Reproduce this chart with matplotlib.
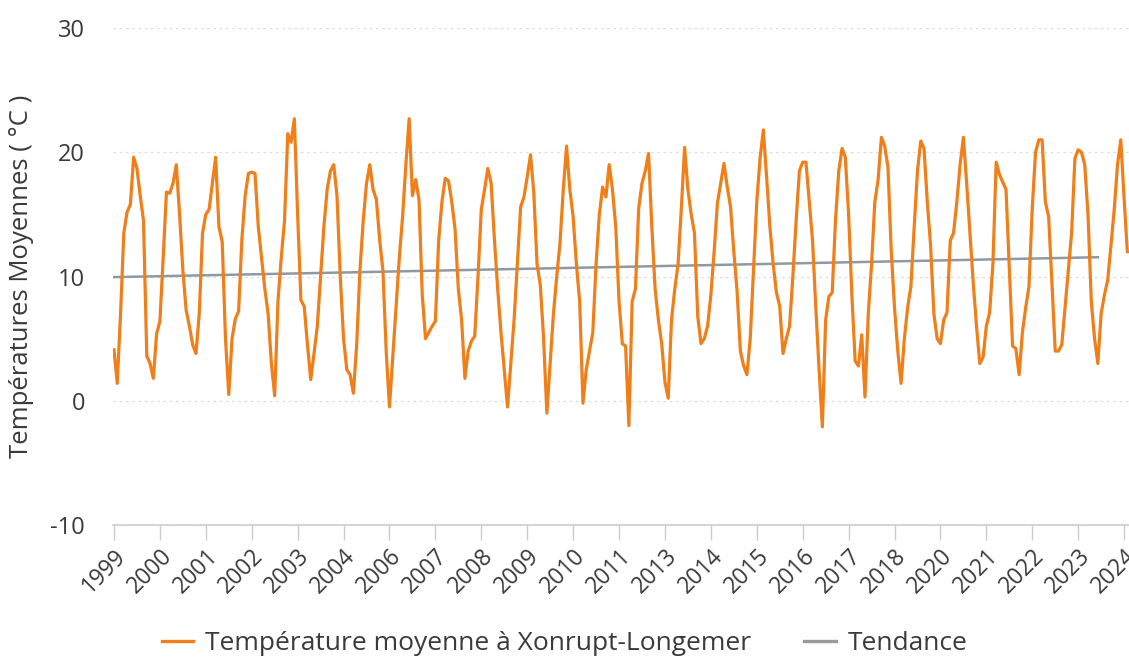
import numpy as np
import matplotlib
matplotlib.use("Agg")
import matplotlib.pyplot as plt
from matplotlib.lines import Line2D

# Monthly mean temperatures (°C), January 1999 onward
t1999 = [4.1, 1.4, 7.0, 13.5, 15.2, 15.8, 19.6, 18.7, 16.5, 14.5, 3.6, 3.0]
t2000 = [1.8, 5.4, 6.4, 11.5, 16.8, 16.7, 17.5, 19.0, 15.0, 10.5, 7.3, 6.0]
t2001 = [4.5, 3.8, 7.0, 13.5, 15.0, 15.4, 17.5, 19.6, 14.0, 12.8, 5.0, 0.5]
t2002 = [5.0, 6.6, 7.2, 13.0, 16.5, 18.3, 18.4, 18.3, 14.0, 11.5, 9.0, 7.0]
t2003 = [3.0, 0.4, 8.0, 11.5, 14.5, 21.5, 20.8, 22.7, 15.0, 8.1, 7.6, 4.5]
t2004 = [1.7, 3.8, 6.0, 10.0, 14.0, 17.0, 18.5, 19.0, 16.5, 10.0, 5.0, 2.5]
t2005 = [2.1, 0.6, 4.5, 10.5, 14.5, 17.5, 19.0, 17.0, 16.2, 13.0, 10.5, 4.0]
t2006 = [-0.5, 3.5, 7.6, 11.5, 14.8, 19.0, 22.7, 16.5, 17.8, 16.2, 8.5, 5.0]
t2007 = [5.5, 6.0, 6.4, 12.9, 16.0, 17.9, 17.7, 16.0, 13.8, 9.0, 6.5, 1.8]
t2008 = [4.0, 4.8, 5.2, 10.0, 15.4, 17.0, 18.7, 17.5, 13.0, 9.0, 5.5, 2.5]
t2009 = [-0.5, 3.0, 6.5, 11.0, 15.6, 16.4, 18.0, 19.8, 16.8, 11.0, 9.3, 5.0]
t2010 = [-1.0, 3.0, 7.0, 10.0, 12.7, 17.0, 20.5, 17.0, 14.8, 11.0, 8.0, -0.2]
t2011 = [2.5, 4.0, 5.5, 11.0, 15.0, 17.2, 16.4, 19.0, 17.0, 14.0, 8.0, 4.6]
t2012 = [4.4, -2.0, 8.0, 9.0, 15.5, 17.5, 18.5, 19.9, 14.0, 9.0, 6.5, 4.6]
t2013 = [1.5, 0.2, 6.5, 9.0, 11.0, 15.5, 20.4, 17.0, 15.0, 13.5, 6.8, 4.6]
t2014 = [5.0, 6.0, 8.5, 12.0, 15.9, 17.5, 19.1, 17.2, 15.6, 12.0, 8.8, 4.0]
t2015 = [2.8, 2.1, 5.0, 10.5, 16.0, 19.5, 21.8, 18.0, 14.0, 11.0, 8.7, 7.6]
t2016 = [3.8, 5.0, 6.0, 10.0, 14.5, 18.5, 19.2, 19.2, 16.0, 12.9, 7.5, 2.5]
t2017 = [-2.1, 6.5, 8.4, 8.7, 14.5, 18.5, 20.3, 19.6, 15.0, 8.5, 3.2, 2.8]
t2018 = [5.3, 0.3, 7.0, 11.0, 16.0, 17.8, 21.2, 20.5, 18.8, 12.1, 7.5, 4.0]
t2019 = [1.4, 5.0, 7.5, 9.2, 14.0, 18.5, 20.9, 20.3, 16.0, 12.5, 7.0, 5.0]
t2020 = [4.6, 6.5, 7.1, 12.9, 13.5, 16.0, 19.0, 21.2, 17.5, 13.5, 9.5, 6.0]
t2021 = [3.0, 3.5, 6.0, 7.1, 11.0, 19.2, 18.2, 17.6, 17.0, 10.8, 4.4, 4.2]
t2022 = [2.1, 5.5, 7.5, 9.2, 15.5, 20.0, 21.0, 21.0, 16.0, 14.8, 9.5, 4.0]
t2023 = [4.0, 4.5, 7.5, 10.5, 13.5, 19.5, 20.2, 20.0, 19.0, 15.0, 8.0, 5.0]
t2024 = [3.0, 7.0, 8.5, 9.7, 12.5, 15.4, 19.0, 21.0, 16.3, 12.0]

temps = (t1999 + t2000 + t2001 + t2002 + t2003 + t2004 + t2005 + t2006 + t2007
         + t2008 + t2009 + t2010 + t2011 + t2012 + t2013 + t2014 + t2015 + t2016
         + t2017 + t2018 + t2019 + t2020 + t2021 + t2022 + t2023 + t2024)

# Linear trend (start / end month index and value)
trend_x = [0, 300]
trend_y = [9.95, 11.55]

# Category axis labels (one every 14 months)
tick_labels = ["1999", "2000", "2001", "2002", "2003", "2004", "2006", "2007",
               "2008", "2009", "2010", "2011", "2013", "2014", "2015", "2016",
               "2017", "2018", "2020", "2021", "2022", "2023", "2024"]
y_ticks = [-10, 0, 10, 20, 30]

FONT = ["Open Sans", "DejaVu Sans"]
plt.rcParams['font.family'] = FONT

W, H = 1129, 663
fig = plt.figure(figsize=(W / 100, H / 100), dpi=100)
left_px, right_px, top_px, bottom_px = 113, 1129, 28, 525
ax = fig.add_axes([left_px / W, (H - bottom_px) / H,
                   (right_px - left_px) / W, (bottom_px - top_px) / H])

orange = "#F07F1A"
gray = "#8D99A5"
x = np.arange(len(temps))
ax.plot(x, temps, color=orange, lw=2.3, solid_joinstyle="round", zorder=3)
ax.plot(trend_x, trend_y, color=gray, lw=1.8, zorder=2)

ax.set_ylim(-10, 30)
ax.set_xlim(-0.3, 309.5)
ax.set_yticks(y_ticks)
ax.set_yticklabels([str(v) for v in y_ticks])
ax.set_xticks(np.arange(0, 14 * len(tick_labels), 14))
ax.set_xticklabels(tick_labels, rotation=45, ha="right", va="top",
                   rotation_mode="anchor")

for v in [0, 10, 20, 30]:
    ax.axhline(v, color="#d9dde2", lw=0.9, ls=(0, (2, 3)), zorder=1)

for s in ["top", "right", "left"]:
    ax.spines[s].set_visible(False)
ax.spines["bottom"].set_color("#c8cdd3")
ax.spines["bottom"].set_linewidth(1.2)
ax.tick_params(axis="x", length=11, width=1.0, color="#c8cdd3",
               labelsize=16.5, labelcolor="#3a3a3a", pad=3)
ax.tick_params(axis="y", length=0, labelsize=17, labelcolor="#3a3a3a", pad=20)

fig.text(22 / W, (H - 276) / H, "Températures Moyennes ( °C )", rotation=90,
         ha="center", va="center", fontsize=18.5, color="#3a3a3a")

handles = [Line2D([], [], color=orange, lw=2.4),
           Line2D([], [], color="#9a9a9a", lw=2.4)]
fig.legend(handles, ["Température moyenne à Xonrupt-Longemer", "Tendance"],
           loc="lower center", bbox_to_anchor=(0.5, -0.025), ncol=2,
           frameon=False, fontsize=19, handlelength=1.2, handletextpad=0.45,
           columnspacing=2.0, labelcolor="#3a3a3a")

fig.savefig("out.png", dpi=100)
